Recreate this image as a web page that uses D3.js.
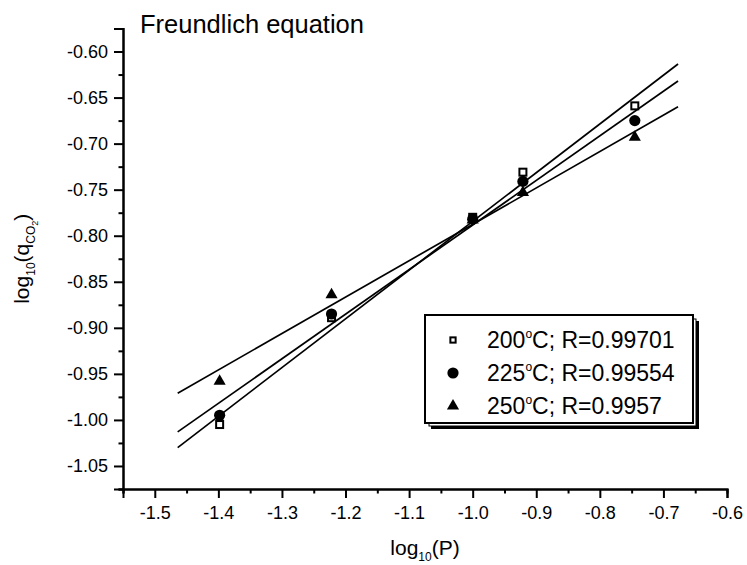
<!DOCTYPE html>
<html>
<head>
<meta charset="utf-8">
<script src="https://cdn.jsdelivr.net/npm/d3@7"></script>
<style>
  body { margin: 0; background: #fff; }
  svg { display: block; font-family: Arial, "Liberation Sans", sans-serif; }
</style>
</head>
<body>
<svg class="chart" width="747" height="565"></svg>
<script>
// values (log10 of pressure / uptake)
const logP = [-1.398, -1.222, -1.0, -0.921, -0.745];
const q200 = [-1.005, -0.889, -0.780, -0.731, -0.659];
const q225 = [-0.995, -0.885, -0.782, -0.741, -0.675];
const q250 = [-0.958, -0.864, -0.783, -0.753, -0.693];

// fitted lines, end points
const fitX = [-1.464, -0.677];
const fit200 = [-1.030, -0.6135];
const fit225 = [-1.013, -0.632];
const fit250 = [-0.971, -0.660];

const xTicks = [-1.5, -1.4, -1.3, -1.2, -1.1, -1.0, -0.9, -0.8, -0.7, -0.6];
const yTicks = [-1.05, -1.00, -0.95, -0.90, -0.85, -0.80, -0.75, -0.70, -0.65, -0.60];
const temps = ['200', '225', '250'];
const rValues = ['0.99701', '0.99554', '0.9957'];

const svg = d3.select('.chart');
const margin = { top: 28.5, left: 123 };

const xScale = d3.scaleLinear().domain([-1.55, -0.6]).range([0, 604]);
const yScale = d3.scaleLinear().domain([-1.075, -0.575]).range([460.5, 0]);

const chart = svg.append('g').attr('transform', `translate(${margin.left},${margin.top})`);

// minor ticks first, then major ones with labels
const xMinor = d3.range(0, 10).map(i => -1.55 + i * 0.1);
const yMinor = d3.range(0, 10).map(i => -1.075 + i * 0.05).concat([-0.575]);

const xAxisMinor = d3.axisBottom(xScale).tickValues(xMinor).tickSize(4.5).tickFormat('');
const yAxisMinor = d3.axisLeft(yScale).tickValues(yMinor).tickSize(4.5).tickFormat('');
const xAxis = d3.axisBottom(xScale).tickValues(xTicks).tickSize(9).tickPadding(8).tickFormat(d => d.toFixed(1));
const yAxis = d3.axisLeft(yScale).tickValues(yTicks).tickSize(9).tickPadding(6).tickFormat(d => d.toFixed(2));

chart.append('g').attr('class', 'axis').attr('transform', `translate(0,${yScale(-1.075)})`).call(xAxisMinor);
chart.append('g').attr('class', 'axis').call(yAxisMinor);
chart.append('g').attr('class', 'axis').attr('transform', `translate(0,${yScale(-1.075)})`).call(xAxis);
chart.append('g').attr('class', 'axis').call(yAxis);

chart.selectAll('.axis path').attr('stroke', '#000').attr('stroke-width', 2);
chart.selectAll('.axis line').attr('stroke', '#000').attr('stroke-width', 2);
chart.selectAll('.axis text')
  .attr('fill', '#000')
  .style('font-size', '18px')
  .style('font-family', 'Arial, "Liberation Sans", sans-serif');

// fitted lines
const line = d3.line().x(d => xScale(d[0])).y(d => yScale(d[1]));
[fit200, fit225, fit250].forEach(fit => {
  chart.append('path')
    .datum(fitX.map((x, i) => [x, fit[i]]))
    .attr('d', line)
    .attr('fill', 'none')
    .attr('stroke', '#000')
    .attr('stroke-width', 1.7);
});

// symbols
function drawSymbol(g, kind, x, y, scale) {
  const s = scale || 1;
  if (kind === 0) {
    g.append('rect')
      .attr('x', x - 3.5 * s).attr('y', y - 3.5 * s)
      .attr('width', 7 * s).attr('height', 7 * s)
      .attr('fill', '#fff').attr('stroke', '#000').attr('stroke-width', 2);
  } else if (kind === 1) {
    g.append('circle').attr('cx', x).attr('cy', y).attr('r', 5.6 * s).attr('fill', '#000');
  } else {
    g.append('path')
      .attr('d', d3.symbol().type(d3.symbolTriangle).size(64 * s * s)())
      .attr('transform', `translate(${x},${y})`)
      .attr('fill', '#000');
  }
}

[q200, q225, q250].forEach((series, k) => {
  series.forEach((v, i) => drawSymbol(chart, k, xScale(logP[i]), yScale(v)));
});

// title
svg.append('text')
  .attr('x', 140).attr('y', 33)
  .style('font-size', '25.5px')
  .text('Freundlich equation');

// axis titles
const xt = svg.append('text')
  .attr('x', margin.left + 302).attr('y', 555)
  .attr('text-anchor', 'middle')
  .style('font-size', '21px');
xt.append('tspan').text('log');
xt.append('tspan').attr('dy', 6).style('font-size', '12px').text('10');
xt.append('tspan').attr('dy', -6).text('(P)');

const yt = svg.append('text')
  .attr('transform', `translate(29,${margin.top + yScale(-0.825)}) rotate(-90)`)
  .attr('text-anchor', 'middle')
  .style('font-size', '21px');
yt.append('tspan').text('log');
yt.append('tspan').attr('dy', 6).style('font-size', '12px').text('10');
yt.append('tspan').attr('dy', -6).text('(q');
yt.append('tspan').attr('dy', 6).style('font-size', '12px').text('CO');
yt.append('tspan').attr('dy', 3).style('font-size', '9px').text('2');
yt.append('tspan').attr('dy', -9).text(')');

// legend box with offset shadow
const legend = svg.append('g').attr('transform', 'translate(425,315)');
const lw = 268, lh = 108;
legend.append('rect').attr('x', 6).attr('y', 6).attr('width', lw).attr('height', lh).attr('fill', '#000');
legend.append('rect').attr('x', 4).attr('y', 4).attr('width', lw - 1).attr('height', lh - 1)
  .attr('fill', '#fff').attr('stroke', '#000').attr('stroke-width', 1);
legend.append('rect').attr('width', lw).attr('height', lh)
  .attr('fill', '#fff').attr('stroke', '#000').attr('stroke-width', 2);

temps.forEach((t, i) => {
  const cy = 25 + i * 33;
  drawSymbol(legend, i, 28, cy, i === 0 ? 0.75 : 1);
  const txt = legend.append('text')
    .attr('x', 62).attr('y', cy + 8)
    .style('font-size', '23px');
  txt.append('tspan').text(t);
  txt.append('tspan').attr('dy', -10).style('font-size', '12px').text('o');
  txt.append('tspan').attr('dy', 10).text('C; R=' + rValues[i]);
});
</script>
</body>
</html>
